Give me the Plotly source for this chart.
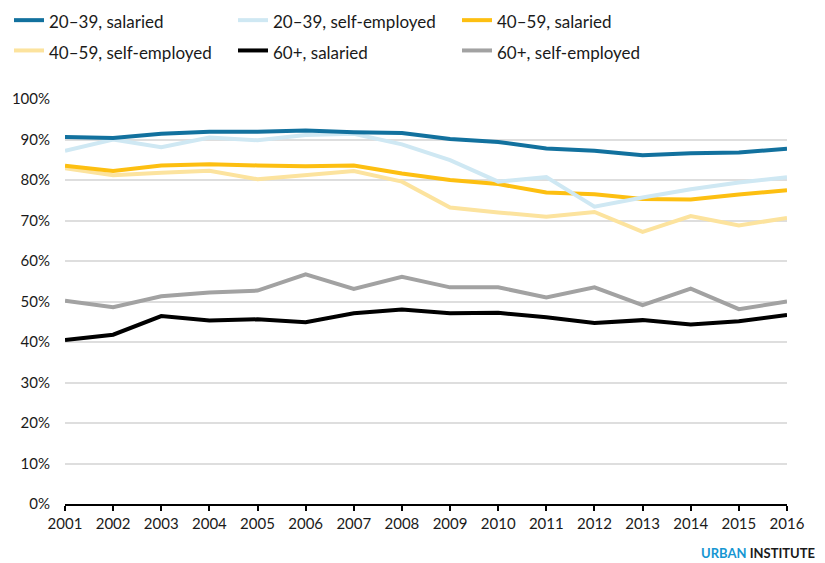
import plotly.graph_objects as go

years = list(range(2001, 2017))

sal_20_39 = [90.6, 90.4, 91.4, 91.9, 91.9, 92.2, 91.8, 91.6, 90.1, 89.4, 87.8, 87.2, 86.1, 86.6, 86.8, 87.7]
self_20_39 = [87.2, 90.0, 88.1, 90.5, 89.8, 91.1, 91.4, 88.8, 84.9, 79.6, 80.7, 73.4, 75.7, 77.7, 79.4, 80.7]
sal_40_59 = [83.5, 82.2, 83.6, 83.9, 83.6, 83.4, 83.6, 81.6, 80.0, 79.0, 76.9, 76.5, 75.3, 75.2, 76.4, 77.5]
self_40_59 = [82.9, 81.2, 81.8, 82.3, 80.2, 81.3, 82.2, 79.6, 73.2, 72.0, 70.9, 72.1, 67.2, 71.1, 68.8, 70.6]
sal_60 = [40.5, 41.8, 46.4, 45.3, 45.6, 44.9, 47.1, 48.0, 47.1, 47.2, 46.1, 44.7, 45.4, 44.3, 45.1, 46.7]
self_60 = [50.2, 48.6, 51.3, 52.2, 52.7, 56.7, 53.1, 56.1, 53.5, 53.5, 51.0, 53.5, 49.1, 53.2, 48.1, 50.0]

y_ticks = list(range(0, 101, 10))
y_tick_labels = [f"{v}%" for v in y_ticks]

# (name, values, colour, legend position); listed in drawing order, back to front
series = [
    ("60+, self-employed", self_60, "#a2a2a2", 6),
    ("60+, salaried", sal_60, "#000000", 5),
    ("40\u201359, self-employed", self_40_59, "#fce39e", 4),
    ("40\u201359, salaried", sal_40_59, "#fdbf11", 3),
    ("20\u201339, self-employed", self_20_39, "#cfe8f3", 2),
    ("20\u201339, salaried", sal_20_39, "#12719e", 1),
]

FONT = "Lato, 'Open Sans', sans-serif"

fig = go.Figure()
for name, vals, color, rank in series:
    fig.add_trace(go.Scatter(
        x=years, y=vals, mode="lines",
        name="<span style='font-size:17px'>" + name + "</span>",
        line=dict(color=color, width=4),
        legendrank=rank,
        hovertemplate="%{x}: %{y:.1f}%<extra>" + name + "</extra>",
    ))

fig.update_layout(
    width=825, height=563,
    margin=dict(l=63, r=38, t=99, b=59),
    paper_bgcolor="white", plot_bgcolor="white",
    font=dict(family=FONT, size=15, color="#1a1a1a"),
    showlegend=True,
    legend=dict(
        orientation="h", xref="container", yref="container",
        x=9 / 825, y=1.0, xanchor="left", yanchor="top",
        entrywidth=179, entrywidthmode="pixels",
        # larger nominal size widens the row pitch; the labels themselves are 17px
        font=dict(family=FONT, size=21, color="#1a1a1a"),
        traceorder="normal",
    ),
    xaxis=dict(
        range=[2001, 2016], tickmode="array", tickvals=years,
        ticktext=[str(y) for y in years],
        showgrid=False, zeroline=False,
        showline=True, linecolor="#000000", linewidth=2,
        ticks="outside", ticklen=5, tickwidth=1.5, tickcolor="#000000",
        tickfont=dict(size=15, color="#1a1a1a"),
    ),
    yaxis=dict(
        range=[0, 100], tickmode="array", tickvals=y_ticks, ticktext=y_tick_labels,
        showgrid=True, gridcolor="#dedede", gridwidth=1.5,
        zeroline=False, showline=False, ticks="",
        ticklabelstandoff=14,
        tickfont=dict(size=15, color="#1a1a1a"),
    ),
)

fig.add_annotation(
    xref="paper", yref="paper", x=1.0414, y=-0.121,
    xanchor="right", yanchor="middle", showarrow=False,
    text="<b><span style='color:#1696d2'>URBAN</span> <span style='color:#1a1a1a'>INSTITUTE</span></b>",
    font=dict(family=FONT, size=13),
)

fig.write_html("out.html")
